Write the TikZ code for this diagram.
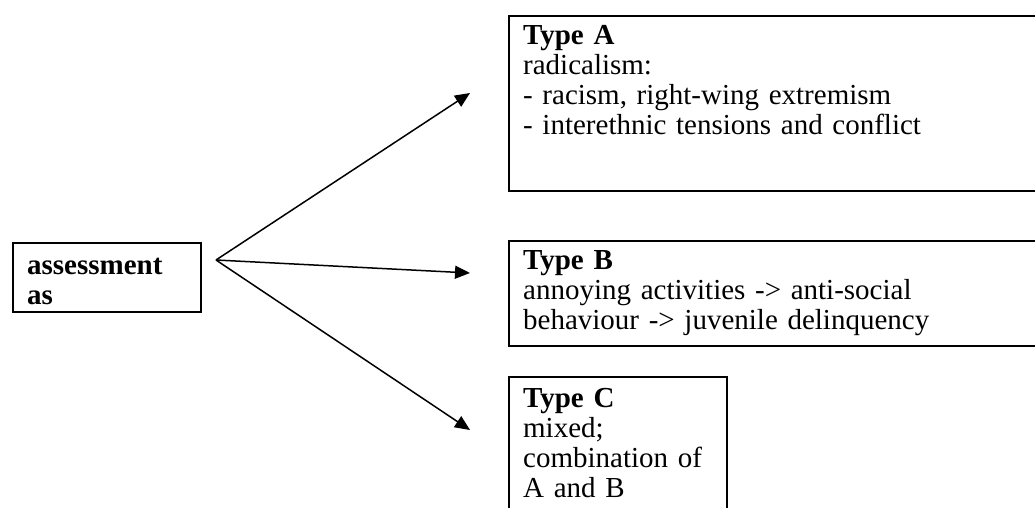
\documentclass[tikz,border=0pt]{standalone}
\usepackage{fontspec}
\setmainfont{Liberation Serif}
\usetikzlibrary{arrows.meta}
\begin{document}
\begin{tikzpicture}[x=1pt, y=-1pt,
        typebox/.style={draw, line width=2.3pt, anchor=north west, align=left,
            inner xsep=14pt, inner ysep=0pt, font=\fontsize{29}{30}\selectfont},
        arr/.style={line width=1.5pt, -{Triangle[length=15pt,width=13pt]}}]
    \useasboundingbox (0, 0) rectangle (1035, 508);
    \clip (0, 0) rectangle (1035, 508);
        \node[typebox, text width=160pt, text height=31pt, text depth=38pt] (assess) at (12, 242)
            {\textbf{assessment}\\\textbf{as}};
        \coordinate (fork) at (216, 260);
            \node[typebox, text width=700pt, text height=28pt, text depth=147pt] (typeA) at (508, 15)
                {\textbf{Type A}\\radicalism:\\- racism, right-wing extremism\\- interethnic tensions and conflict};
            \node[typebox, text width=700pt, text height=28pt, text depth=77pt] (typeB) at (508, 240)
                {\textbf{Type B}\\annoying activities -> anti-social\\behaviour -> juvenile delinquency};
            \node[typebox, text width=190pt, text height=30pt, text depth=200pt] (typeC) at (508, 376)
                {\textbf{Type C}\\mixed;\\combination of\\A and B};
        \coordinate (tipA) at (470, 93);
        \coordinate (tipB) at (470, 273);
        \coordinate (tipC) at (470, 430);
            \draw[arr] (fork) -- (tipA);
            \draw[arr] (fork) -- (tipB);
            \draw[arr] (fork) -- (tipC);
\end{tikzpicture}
\end{document}
